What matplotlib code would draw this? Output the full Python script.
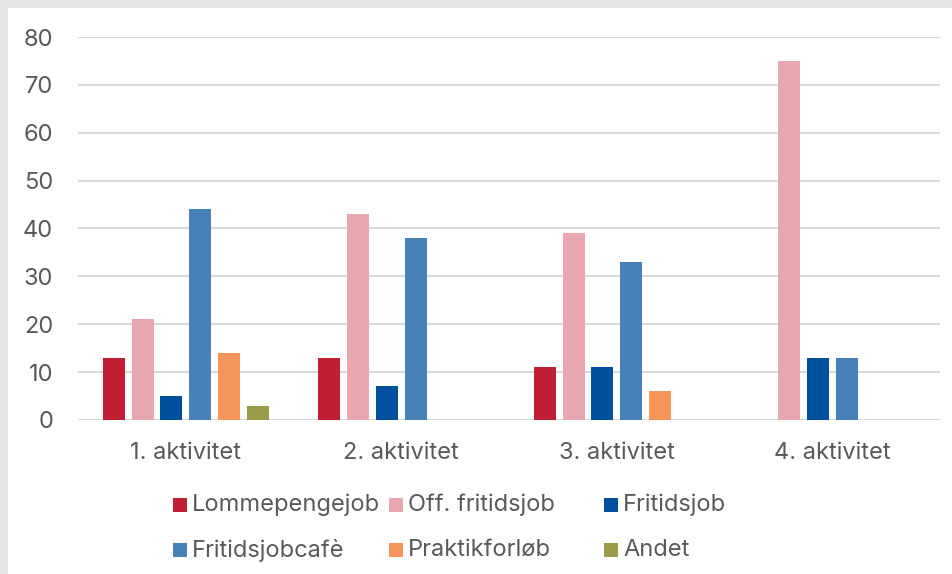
import matplotlib
matplotlib.use("Agg")
import matplotlib.pyplot as plt
import numpy as np
from matplotlib.patches import Rectangle

plt.rcParams['font.family'] = ['Inter', 'DejaVu Sans']

categories = ["1. aktivitet", "2. aktivitet", "3. aktivitet", "4. aktivitet"]
series_names = ["Lommepengejob", "Off. fritidsjob", "Fritidsjob",
                "Fritidsjobcafè", "Praktikforløb", "Andet"]
lommepengejob = [13, 13, 11, 0]
off_fritidsjob = [21, 43, 39, 75]
fritidsjob = [5, 7, 11, 13]
fritidsjobcafe = [44, 38, 33, 13]
praktikforloeb = [14, 0, 6, 0]
andet = [3, 0, 0, 0]
series_values = [lommepengejob, off_fritidsjob, fritidsjob,
                 fritidsjobcafe, praktikforloeb, andet]
colors = ["#C01F33", "#E8A7AE", "#00509D", "#4682B8", "#F59559", "#9A9C4A"]
yticks = [0, 10, 20, 30, 40, 50, 60, 70, 80]

W, H = 952, 574
FS = 17
fig = plt.figure(figsize=(W / 100, H / 100), dpi=100)
fig.patch.set_facecolor("#E3E4E6")
fig.add_artist(Rectangle((8 / W, 0), 1, 1 - 8 / H, transform=fig.transFigure,
                         facecolor="white", edgecolor="none", zorder=0))

left, right = 78 / W, 940 / W
bottom, top = 1 - 420 / H, 1 - 37 / H
ax = fig.add_axes([left, bottom, right - left, top - bottom])
ax.set_facecolor("none")

x = np.arange(len(categories))
slot = 0.1336
bw = 0.102
for i, (name, vals, c) in enumerate(zip(series_names, series_values, colors)):
    pos = x + (i - 2.5) * slot
    ax.bar(pos, vals, width=bw, color=c, label=name, zorder=3, linewidth=0)

ax.set_xlim(-0.5, len(categories) - 0.5)
ax.set_ylim(0, 80)
ax.set_yticks(yticks)
ax.set_xticks(x)
ax.set_xticklabels(categories)
ax.yaxis.grid(True, color="#D9D9D9", linewidth=1.5, zorder=0)
ax.set_axisbelow(True)
for s in ax.spines.values():
    s.set_visible(False)
ax.tick_params(axis="both", length=0, colors="#595959", labelsize=FS)
ax.tick_params(axis="y", pad=18)
ax.tick_params(axis="x", pad=16)

# legend placed manually in 2 rows x 3 columns
col_x = [173, 389, 604]
row_y = [505, 550]
for i, (name, c) in enumerate(zip(series_names, colors)):
    r, k = divmod(i, 3)
    cx, cy = col_x[k], row_y[r]
    fig.add_artist(Rectangle((cx / W, 1 - (cy + 7) / H), 14 / W, 14 / H,
                             transform=fig.transFigure, facecolor=c,
                             edgecolor="none"))
    fig.text((cx + 19) / W, 1 - cy / H, name, fontsize=FS, color="#595959",
             va="center", ha="left")

fig.savefig("out.png", dpi=100)
